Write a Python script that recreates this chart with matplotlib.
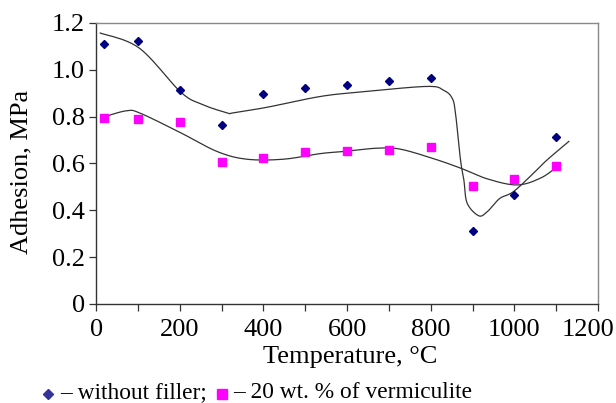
import numpy as np
import matplotlib
matplotlib.use("Agg")
import matplotlib.pyplot as plt
from matplotlib.transforms import ScaledTranslation

plt.rcParams['font.family'] = ['Liberation Serif', 'DejaVu Serif']

temp = [20, 100, 200, 300, 400, 500, 600, 700, 800, 900, 1000, 1100]
no_filler = [1.11, 1.125, 0.915, 0.765, 0.896, 0.924, 0.933, 0.954, 0.964, 0.313, 0.466, 0.714]
vermic = [0.796, 0.788, 0.775, 0.607, 0.625, 0.648, 0.651, 0.657, 0.668, 0.505, 0.534, 0.587]

# trend curves
trend1_x = [10, 103, 201, 249, 313, 328, 409, 536, 632, 791, 831, 851, 859, 871, 879, 887,
            915, 935, 950, 967, 998, 1046, 1078, 1130]
trend1_y = [1.157, 1.093, 0.907, 0.855, 0.816, 0.816, 0.84, 0.886, 0.905, 0.929, 0.912, 0.879,
            0.815, 0.615, 0.53, 0.43, 0.376, 0.394, 0.423, 0.453, 0.48, 0.559, 0.615, 0.694]
trend2_x = [21, 73, 105, 201, 289, 360, 448, 536, 592, 671, 727, 807, 871, 935, 1006, 1062,
            1102, 1110]
trend2_y = [0.80, 0.825, 0.815, 0.732, 0.651, 0.618, 0.618, 0.642, 0.651, 0.665, 0.661, 0.62,
            0.58, 0.534, 0.508, 0.537, 0.585, 0.594]


def smooth(xs, ys, n=12):
    # catmull-rom through the read points
    p = np.column_stack([xs, ys]).astype(float)
    p = np.vstack([p[0], p, p[-1]])
    out = []
    for i in range(1, len(p) - 2):
        p0, p1, p2, p3 = p[i - 1], p[i], p[i + 1], p[i + 2]
        for t in np.linspace(0, 1, n, endpoint=False):
            out.append(0.5 * ((2 * p1) + (-p0 + p2) * t + (2 * p0 - 5 * p1 + 4 * p2 - p3) * t ** 2
                              + (-p0 + 3 * p1 - 3 * p2 + p3) * t ** 3))
    out.append(p[-2])
    out = np.array(out)
    return out[:, 0], out[:, 1]


fig = plt.figure(figsize=(6.16, 4.03), dpi=100)
ax = fig.add_axes([0.156, 0.246, 0.815, 0.697])

sx, sy = smooth(trend1_x, trend1_y)
ax.plot(sx, sy, color='#333333', lw=0.9)
sx, sy = smooth(trend2_x, trend2_y)
ax.plot(sx, sy, color='#333333', lw=0.9)

ax.plot(temp, no_filler, 'D', color='#000080', ms=4, ls='none')
ax.plot(temp, vermic, 's', color='#ff00ff', ms=5.8, ls='none')

ax.set_xlim(0, 1200)
ax.set_ylim(0, 1.2)
ax.set_xticks(range(0, 1201, 100))
ax.set_xticklabels([str(v) if v % 200 == 0 else '' for v in range(0, 1201, 100)])
ax.set_yticks([0, 0.2, 0.4, 0.6, 0.8, 1.0, 1.2])
ax.set_yticklabels(['0', '0.2', '0.4', '0.6', '0.8', '1.0', '1.2'])
ax.tick_params(direction='out', length=5, width=0.9, color='#333333', labelsize=19, pad=3)
ax.tick_params(axis='x', pad=6)

# last x label sits a bit inside the figure edge
lab = ax.get_xticklabels()[-1]
lab.set_transform(lab.get_transform() + ScaledTranslation(-10 / 100, 0, fig.dpi_scale_trans))

for s in ['left', 'bottom']:
    ax.spines[s].set_color('#333333')
    ax.spines[s].set_linewidth(1.0)
for s in ['top', 'right']:
    ax.spines[s].set_color('#888888')
    ax.spines[s].set_linewidth(1.0)

fig.text(350 / 616, 1 - 357 / 403, 'Temperature, °C', fontsize=19, ha='center', va='center')
fig.text(21 / 616, 1 - 172 / 403, 'Adhesion, MPa', fontsize=19, ha='center', va='center',
         rotation=90)

# legend line under the axis title
fig.lines.append(plt.Line2D([47.7 / 616], [1 - 394 / 403], marker='D', color='#333399',
                            ms=5.5, ls='none', transform=fig.transFigure))
fig.text(60 / 616, 1 - 393 / 403, '– without filler;', fontsize=16.8, va='center')
fig.lines.append(plt.Line2D([221.7 / 616], [1 - 394 / 403], marker='s', color='#ff00ff',
                            ms=6.5, ls='none', transform=fig.transFigure))
fig.text(233 / 616, 1 - 393 / 403, '– 20 wt. % of vermiculite', fontsize=16.8, va='center')

fig.savefig('out.png', dpi=100)
